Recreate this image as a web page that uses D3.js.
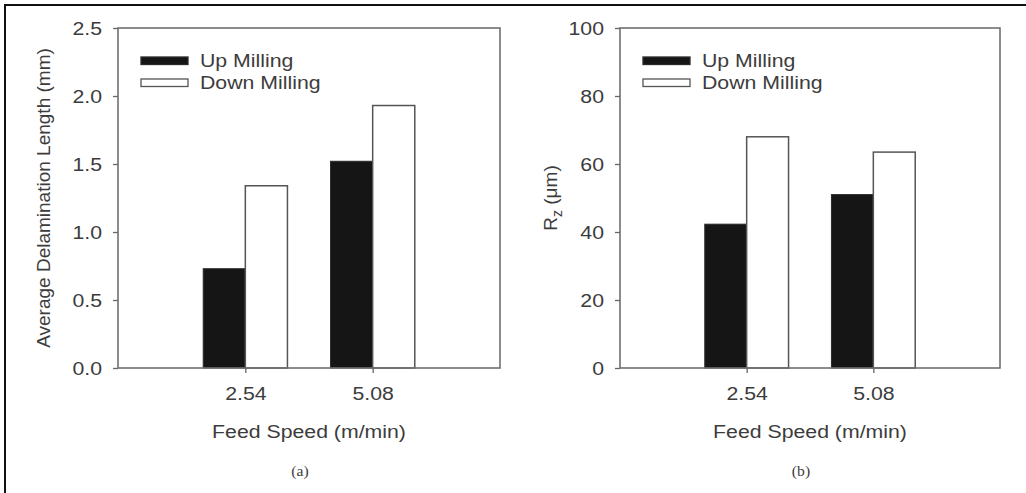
<!DOCTYPE html>
<html>
<head>
<meta charset="utf-8">
<script src="https://cdn.jsdelivr.net/npm/d3@7"></script>
<style>
  html, body { margin: 0; padding: 0; background: #fff; }
  svg { display: block; }
  text { font-family: "Liberation Sans", Arial, sans-serif; fill: #3c3c3c; }
</style>
</head>
<body>
<svg id="fig" width="1026" height="493"></svg>
<script>
// Feed speeds (m/min) and the two milling strategies
const feedSpeeds = [2.54, 5.08];
const feedLabels = ["2.54", "5.08"];
const seriesNames = ["Up Milling", "Down Milling"];

// (a) average delamination length, mm
const delamUp = [0.73, 1.52];
const delamDown = [1.34, 1.93];
const delamTicks = [0.0, 0.5, 1.0, 1.5, 2.0, 2.5];

// (b) surface roughness Rz, µm
const rzUp = [42.3, 51.0];
const rzDown = [68.0, 63.5];
const rzTicks = [0, 20, 40, 60, 80, 100];

const STRETCH = 1.12;      // horizontal glyph stretch of the figure's lettering
const FONT = 19;
const BAR_W = 0.84;        // bar width in feed-speed units

const svg = d3.select("#fig");

// outer figure border (open at right and bottom)
svg.append("path")
  .attr("d", "M5,493V5H1026")
  .attr("fill", "none").attr("stroke", "#111").attr("stroke-width", 2);

function stretchText(sel) {
  sel.each(function () {
    const t = d3.select(this);
    const x = +t.attr("x") || 0;
    t.attr("x", x / STRETCH).attr("transform", `scale(${STRETCH},1)`);
  });
}

function panel(opt) {
  const { left, right, top, bottom, yMax, ticks, fmt, up, down, tag, yLabelX } = opt;
  const g = svg.append("g");

  const x = d3.scaleLinear().domain([0, 7.62]).range([left, right]);
  const y = d3.scaleLinear().domain([0, yMax]).range([bottom, top]);

  // bars
  const rows = feedSpeeds.map((f, i) => ({ f, up: up[i], down: down[i] }));
  g.selectAll("rect.up").data(rows).join("rect")
    .attr("class", "up")
    .attr("x", d => x(d.f - BAR_W)).attr("width", d => x(d.f) - x(d.f - BAR_W))
    .attr("y", d => y(d.up)).attr("height", d => y(0) - y(d.up))
    .attr("fill", "#151515").attr("stroke", "#2a2a2a").attr("stroke-width", 1);
  g.selectAll("rect.down").data(rows).join("rect")
    .attr("class", "down")
    .attr("x", d => x(d.f)).attr("width", d => x(d.f + BAR_W) - x(d.f))
    .attr("y", d => y(d.down)).attr("height", d => y(0) - y(d.down))
    .attr("fill", "#fff").attr("stroke", "#555").attr("stroke-width", 1.5);

  // plot frame
  g.append("rect")
    .attr("x", left).attr("y", top)
    .attr("width", right - left).attr("height", bottom - top)
    .attr("fill", "none").attr("stroke", "#707070").attr("stroke-width", 1.6);

  // y axis
  const ya = g.append("g").attr("transform", `translate(${left},0)`)
    .call(d3.axisLeft(y).tickValues(ticks).tickFormat(fmt).tickSize(5).tickSizeOuter(0).tickPadding(11));
  ya.select(".domain").remove();
  ya.selectAll("line").attr("stroke", "#666").attr("stroke-width", 1.3);
  ya.selectAll("text").attr("font-size", FONT).attr("fill", "#3c3c3c").call(stretchText);

  // x axis
  const xa = g.append("g").attr("transform", `translate(0,${bottom})`)
    .call(d3.axisBottom(x).tickValues(feedSpeeds).tickFormat((d, i) => feedLabels[i]).tickSize(5).tickSizeOuter(0).tickPadding(14));
  xa.select(".domain").remove();
  xa.selectAll("line").attr("stroke", "#666").attr("stroke-width", 1.3);
  xa.selectAll("text").attr("font-size", FONT).attr("fill", "#3c3c3c").call(stretchText);

  // x axis title
  const cx = (left + right) / 2;
  g.append("text")
    .attr("transform", `translate(${cx},438) scale(${STRETCH},1)`)
    .attr("text-anchor", "middle").attr("font-size", FONT)
    .text("Feed Speed (m/min)");

  // panel tag
  g.append("text")
    .attr("transform", `translate(${cx - 9},476) scale(${STRETCH},1)`)
    .attr("text-anchor", "middle").attr("font-size", 14)
    .style("font-family", "'Liberation Serif', serif")
    .text(tag);

  // legend
  const legendItems = [
    { name: seriesNames[0], fill: "#151515", stroke: "#2a2a2a", y: 57 },
    { name: seriesNames[1], fill: "#fff", stroke: "#555", y: 79 }
  ];
  const lg = g.append("g").attr("transform", `translate(${left},0)`);
  lg.selectAll("rect").data(legendItems).join("rect")
    .attr("x", 23).attr("y", d => d.y).attr("width", 47).attr("height", 7.5)
    .attr("fill", d => d.fill).attr("stroke", d => d.stroke).attr("stroke-width", 1.3);
  lg.selectAll("text").data(legendItems).join("text")
    .attr("transform", d => `translate(82,${d.y + 9.5}) scale(${STRETCH},1)`)
    .attr("font-size", FONT)
    .text(d => d.name);

  // y axis title
  const yl = g.append("text")
    .attr("transform", `translate(${yLabelX},${(top + bottom) / 2}) rotate(-90)`)
    .attr("text-anchor", "middle").attr("font-size", FONT);
  opt.yTitle(yl);
}

panel({
  left: 118, right: 500, top: 28, bottom: 368,
  yMax: 2.5, ticks: delamTicks, fmt: d3.format(".1f"),
  up: delamUp, down: delamDown, tag: "(a)", yLabelX: 50,
  yTitle: t => t.text("Average Delamination Length (mm)")
});

panel({
  left: 620, right: 1000, top: 28, bottom: 368,
  yMax: 100, ticks: rzTicks, fmt: d3.format("d"),
  up: rzUp, down: rzDown, tag: "(b)", yLabelX: 557,
  yTitle: t => {
    t.append("tspan").text("R");
    t.append("tspan").attr("font-size", 14).attr("dy", 5).text("z");
    t.append("tspan").attr("dy", -5).text(" (μm)");
  }
});
</script>
</body>
</html>
